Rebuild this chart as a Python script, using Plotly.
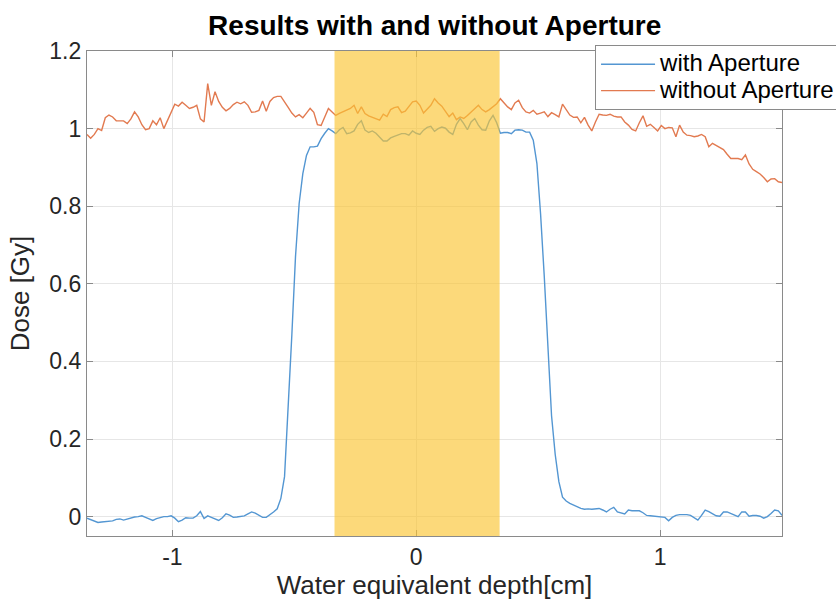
import numpy as np
import plotly.graph_objects as go

# depth sampling grid (cm)
depth_start = -1.35
depth_end = 1.5
n_samples = 191
depth = np.round(np.linspace(depth_start, depth_end, n_samples), 4)

dose_without = [
    0.985, 0.975, 0.985, 1.0, 0.995, 1.028, 1.035, 1.03, 1.02, 1.02,
    1.02, 1.013, 1.025, 1.043, 1.03, 1.01, 0.997, 1.0, 1.02, 1.01,
    1.028, 1.0, 1.02, 1.04, 1.063, 1.058, 1.068, 1.06, 1.052, 1.055,
    1.06, 1.025, 1.017, 1.116, 1.06, 1.095, 1.07, 1.055, 1.046, 1.052,
    1.062, 1.068, 1.064, 1.069, 1.06, 1.042, 1.043, 1.047, 1.071, 1.045,
    1.07, 1.08, 1.083, 1.083, 1.07, 1.055, 1.04, 1.03, 1.036, 1.028,
    1.04, 1.052, 1.042, 1.01, 1.008, 1.029, 1.052, 1.043, 1.034, 1.039,
    1.043, 1.047, 1.052, 1.06, 1.039, 1.056, 1.039, 1.033, 1.03, 1.026,
    1.022, 1.037, 1.031, 1.049, 1.054, 1.056, 1.041, 1.045, 1.058, 1.069,
    1.071, 1.06, 1.04, 1.049, 1.06, 1.077, 1.066, 1.058, 1.043, 1.031,
    1.04, 1.023, 1.03, 1.026, 1.034, 1.043, 1.052, 1.06, 1.049, 1.043,
    1.049, 1.056, 1.064, 1.077, 1.066, 1.056, 1.049, 1.066, 1.073, 1.054,
    1.043, 1.04, 1.047, 1.037, 1.04, 1.043, 1.031, 1.041, 1.036, 1.03,
    1.063, 1.049, 1.035, 1.029, 1.03, 1.015, 1.029, 1.009, 0.994, 1.017,
    1.037, 1.035, 1.034, 1.037, 1.032, 1.03, 1.03, 1.017, 1.009, 0.998,
    0.994, 1.015, 1.033, 1.006, 1.011, 1.003, 0.994, 1.008, 1.0, 1.003,
    1.002, 0.979, 1.009, 0.991, 0.983, 0.982, 0.979, 0.981, 0.985, 0.979,
    0.953, 0.962, 0.957, 0.951, 0.946, 0.934, 0.923, 0.923, 0.923, 0.92,
    0.932, 0.909, 0.895, 0.889, 0.883, 0.874, 0.863, 0.87, 0.871, 0.863, 0.861,
]

dose_with = [
    -0.004, -0.008, -0.01, -0.015, -0.014, -0.013, -0.013, -0.011, -0.007, -0.006,
    -0.009, -0.006, -0.004, -0.001, 0.0, 0.002, -0.002, -0.007, -0.01, -0.005,
    -0.002, 0.0, 0.0, 0.002, -0.004, -0.013, -0.009, -0.003, -0.004, -0.004,
    0.002, 0.013, -0.005, 0.002, -0.002, -0.007, -0.01, -0.003, 0.007, 0.004,
    -0.002, -0.001, 0.0, 0.002, 0.007, 0.012, 0.009, 0.003, -0.002, -0.002,
    0.004, 0.012, 0.02, 0.047, 0.103, 0.279, 0.468, 0.67, 0.807, 0.884,
    0.931, 0.953, 0.953, 0.955, 0.974, 0.988, 1.0, 0.994, 0.987, 0.997,
    1.003, 0.987, 0.989, 0.994, 1.011, 1.02, 0.996, 0.99, 0.994, 0.988,
    0.979, 0.968, 0.968, 0.976, 0.98, 0.983, 0.987, 0.987, 0.983, 0.994,
    0.988, 0.985, 0.996, 1.003, 1.006, 0.993, 1.0, 1.004, 1.001, 0.991,
    0.985, 1.011, 1.026, 1.013, 0.997, 1.017, 1.026, 1.009, 0.997, 0.996,
    1.02, 1.034, 1.015, 0.988, 0.99, 0.99, 0.987, 0.996, 0.997, 0.996,
    0.991, 0.991, 0.97, 0.91, 0.78, 0.62, 0.43, 0.26, 0.16, 0.09,
    0.05, 0.04, 0.034, 0.03, 0.024, 0.021, 0.019, 0.02, 0.019, 0.02,
    0.021, 0.017, 0.012, 0.019, 0.024, 0.012, 0.01, 0.007, 0.017, 0.015,
    0.015, 0.015, 0.01, 0.003, 0.002, 0.001, 0.0, 0.0, -0.002, -0.011,
    -0.002, 0.003, 0.005, 0.005, 0.005, 0.003, -0.002, -0.009, 0.003, 0.017,
    0.013, 0.008, 0.002, 0.001, 0.012, 0.012, 0.008, 0.002, 0.0, 0.012,
    0.012, 0.001, 0.003, 0.003, 0.001, -0.004, 0.0, 0.008, 0.017, 0.015, 0.003,
]

series_names = ["with Aperture", "without Aperture"]
band = [-0.335, 0.342]
x_ticks = [-1, 0, 1]
x_tick_labels = ["-1", "0", "1"]
y_ticks = [0, 0.2, 0.4, 0.6, 0.8, 1.0, 1.2]
y_tick_labels = ["0", "0.2", "0.4", "0.6", "0.8", "1", "1.2"]

FONT = "Liberation Sans, Arial, Helvetica, sans-serif"
TXT = "#262626"
AX = "#8a8a8a"


def legend_label(s):
    return "<span style='font-size:24px'>" + s + "</span>"


fig = go.Figure()
fig.add_trace(go.Scatter(x=depth, y=dose_with, mode="lines", name=legend_label(series_names[0]),
                         line=dict(color="#5396D2", width=1.4)))
fig.add_trace(go.Scatter(x=depth, y=dose_without, mode="lines", name=legend_label(series_names[1]),
                         line=dict(color="#E27A50", width=1.4)))

fig.add_shape(type="rect", xref="x", yref="paper", x0=band[0], x1=band[1], y0=0, y1=1,
              fillcolor="rgba(250,196,50,0.65)", line=dict(width=0), layer="above")

axis_common = dict(showline=True, linecolor=AX, linewidth=1.3, mirror="ticks",
                   ticks="inside", ticklen=6, tickcolor=AX, tickwidth=1.2,
                   showgrid=True, gridcolor="#e6e6e6", gridwidth=1, zeroline=False,
                   tickfont=dict(family=FONT, size=23, color=TXT))

fig.update_layout(
    width=836, height=603,
    margin=dict(l=87, r=54, t=51, b=67, autoexpand=False),
    paper_bgcolor="white", plot_bgcolor="white",
    title=dict(text="<b>Results with and without Aperture</b>", x=0.52, xanchor="center",
               y=1 - 25 / 603, yanchor="middle", yref="container",
               font=dict(family=FONT, size=28, color="black")),
    xaxis=dict(range=[depth_start, depth_end], tickvals=x_ticks, ticktext=x_tick_labels,
               title=dict(text="Water equivalent depth[cm]", standoff=6,
                          font=dict(family=FONT, size=26, color=TXT)),
               **axis_common),
    yaxis=dict(range=[-0.05, 1.2], tickvals=y_ticks, ticktext=y_tick_labels,
               title=dict(text="Dose [Gy]", standoff=12,
                          font=dict(family=FONT, size=26, color=TXT)),
               **axis_common),
    legend=dict(x=0.731, y=1.0124, xanchor="left", yanchor="top",
                bgcolor="white", bordercolor=AX, borderwidth=1,
                font=dict(family=FONT, size=18, color="black"),
                itemwidth=54, tracegroupgap=0),
    showlegend=True,
)

fig.write_html("out.html")
